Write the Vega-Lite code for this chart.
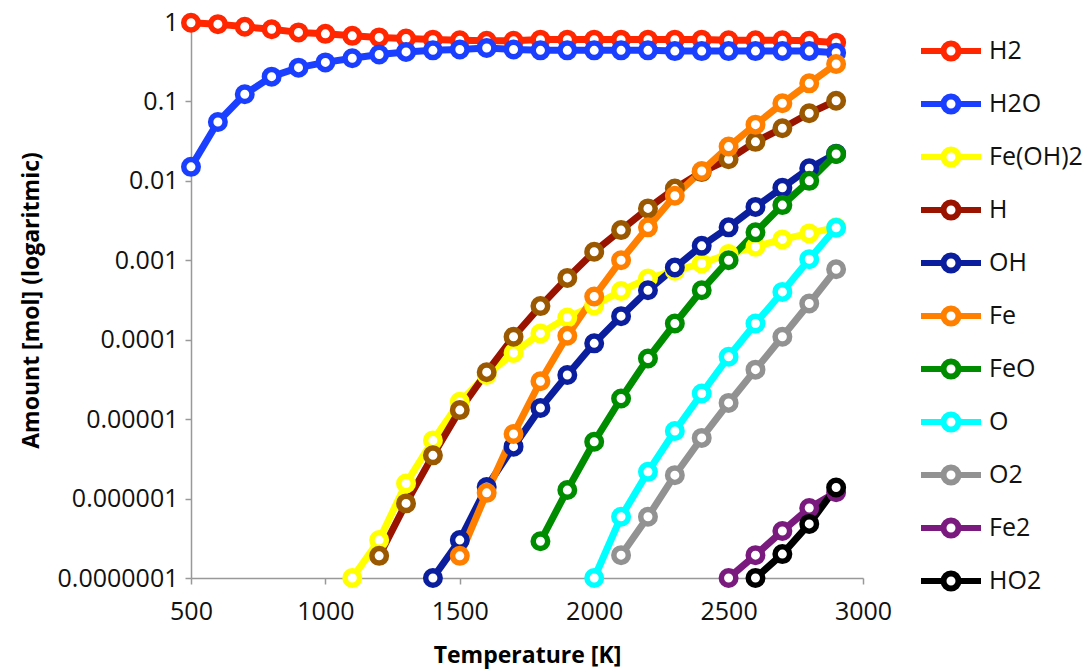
{
  "$schema": "https://vega.github.io/schema/vega-lite/v6.json",
  "width": 672,
  "height": 556,
  "autosize": {"type": "none"},
  "padding": {"left": 191, "top": 22, "right": 229, "bottom": 93},
  "background": "white",
  "config": {
    "view": {"stroke": null},
    "font": "Open Sans",
    "axis": {"labelFont": "Open Sans", "titleFont": "Open Sans", "labelColor": "#111", "titleColor": "#000", "domainColor": "#999", "tickColor": "#999", "domainWidth": 1.5, "tickWidth": 1.5, "grid": false},
    "legend": {"labelFont": "Open Sans"}
  },
  "data": {"values": [
    {"s":"H2","T":500,"v":0.98},{"s":"H2","T":600,"v":0.94},{"s":"H2","T":700,"v":0.87},{"s":"H2","T":800,"v":0.81},{"s":"H2","T":900,"v":0.74},{"s":"H2","T":1000,"v":0.71},{"s":"H2","T":1100,"v":0.67},{"s":"H2","T":1200,"v":0.64},{"s":"H2","T":1300,"v":0.62},{"s":"H2","T":1400,"v":0.6},{"s":"H2","T":1500,"v":0.59},{"s":"H2","T":1600,"v":0.58},{"s":"H2","T":1700,"v":0.58},{"s":"H2","T":1800,"v":0.6},{"s":"H2","T":1900,"v":0.6},{"s":"H2","T":2000,"v":0.6},{"s":"H2","T":2100,"v":0.6},{"s":"H2","T":2200,"v":0.6},{"s":"H2","T":2300,"v":0.6},{"s":"H2","T":2400,"v":0.6},{"s":"H2","T":2500,"v":0.59},{"s":"H2","T":2600,"v":0.59},{"s":"H2","T":2700,"v":0.59},{"s":"H2","T":2800,"v":0.58},{"s":"H2","T":2900,"v":0.55},
    {"s":"H2O","T":500,"v":0.015},{"s":"H2O","T":600,"v":0.055},{"s":"H2O","T":700,"v":0.123},{"s":"H2O","T":800,"v":0.205},{"s":"H2O","T":900,"v":0.266},{"s":"H2O","T":1000,"v":0.31},{"s":"H2O","T":1100,"v":0.35},{"s":"H2O","T":1200,"v":0.39},{"s":"H2O","T":1300,"v":0.42},{"s":"H2O","T":1400,"v":0.44},{"s":"H2O","T":1500,"v":0.45},{"s":"H2O","T":1600,"v":0.47},{"s":"H2O","T":1700,"v":0.45},{"s":"H2O","T":1800,"v":0.44},{"s":"H2O","T":1900,"v":0.44},{"s":"H2O","T":2000,"v":0.44},{"s":"H2O","T":2100,"v":0.44},{"s":"H2O","T":2200,"v":0.44},{"s":"H2O","T":2300,"v":0.43},{"s":"H2O","T":2400,"v":0.43},{"s":"H2O","T":2500,"v":0.43},{"s":"H2O","T":2600,"v":0.43},{"s":"H2O","T":2700,"v":0.43},{"s":"H2O","T":2800,"v":0.43},{"s":"H2O","T":2900,"v":0.41},
    {"s":"Fe(OH)2","T":1100,"v":1e-7},{"s":"Fe(OH)2","T":1200,"v":3.0e-7},{"s":"Fe(OH)2","T":1300,"v":1.55e-6},{"s":"Fe(OH)2","T":1400,"v":5.4e-6},{"s":"Fe(OH)2","T":1500,"v":1.65e-5},{"s":"Fe(OH)2","T":1600,"v":3.6e-5},{"s":"Fe(OH)2","T":1700,"v":6.8e-5},{"s":"Fe(OH)2","T":1800,"v":1.2e-4},{"s":"Fe(OH)2","T":1900,"v":1.9e-4},{"s":"Fe(OH)2","T":2000,"v":2.7e-4},{"s":"Fe(OH)2","T":2100,"v":4.1e-4},{"s":"Fe(OH)2","T":2200,"v":5.9e-4},{"s":"Fe(OH)2","T":2300,"v":7.4e-4},{"s":"Fe(OH)2","T":2400,"v":9.1e-4},{"s":"Fe(OH)2","T":2500,"v":1.2e-3},{"s":"Fe(OH)2","T":2600,"v":1.48e-3},{"s":"Fe(OH)2","T":2700,"v":1.83e-3},{"s":"Fe(OH)2","T":2800,"v":2.18e-3},{"s":"Fe(OH)2","T":2900,"v":2.6e-3},
    {"s":"H","T":1200,"v":1.9e-7},{"s":"H","T":1300,"v":8.7e-7},{"s":"H","T":1400,"v":3.5e-6},{"s":"H","T":1500,"v":1.3e-5},{"s":"H","T":1600,"v":3.9e-5},{"s":"H","T":1700,"v":1.09e-4},{"s":"H","T":1800,"v":2.65e-4},{"s":"H","T":1900,"v":6.0e-4},{"s":"H","T":2000,"v":1.28e-3},{"s":"H","T":2100,"v":2.4e-3},{"s":"H","T":2200,"v":4.5e-3},{"s":"H","T":2300,"v":8.0e-3},{"s":"H","T":2400,"v":1.29e-2},{"s":"H","T":2500,"v":1.87e-2},{"s":"H","T":2600,"v":3.1e-2},{"s":"H","T":2700,"v":4.6e-2},{"s":"H","T":2800,"v":7.1e-2},{"s":"H","T":2900,"v":0.102},
    {"s":"OH","T":1400,"v":1e-7},{"s":"OH","T":1500,"v":3.0e-7},{"s":"OH","T":1600,"v":1.4e-6},{"s":"OH","T":1700,"v":4.5e-6},{"s":"OH","T":1800,"v":1.38e-5},{"s":"OH","T":1900,"v":3.6e-5},{"s":"OH","T":2000,"v":9.0e-5},{"s":"OH","T":2100,"v":1.98e-4},{"s":"OH","T":2200,"v":4.2e-4},{"s":"OH","T":2300,"v":8.1e-4},{"s":"OH","T":2400,"v":1.52e-3},{"s":"OH","T":2500,"v":2.6e-3},{"s":"OH","T":2600,"v":4.7e-3},{"s":"OH","T":2700,"v":8.2e-3},{"s":"OH","T":2800,"v":1.44e-2},{"s":"OH","T":2900,"v":2.2e-2},
    {"s":"Fe","T":1500,"v":1.9e-7},{"s":"Fe","T":1600,"v":1.18e-6},{"s":"Fe","T":1700,"v":6.5e-6},{"s":"Fe","T":1800,"v":3.0e-5},{"s":"Fe","T":1900,"v":1.12e-4},{"s":"Fe","T":2000,"v":3.5e-4},{"s":"Fe","T":2100,"v":1.0e-3},{"s":"Fe","T":2200,"v":2.6e-3},{"s":"Fe","T":2300,"v":6.5e-3},{"s":"Fe","T":2400,"v":1.33e-2},{"s":"Fe","T":2500,"v":2.7e-2},{"s":"Fe","T":2600,"v":5.1e-2},{"s":"Fe","T":2700,"v":9.5e-2},{"s":"Fe","T":2800,"v":0.169},{"s":"Fe","T":2900,"v":0.296},
    {"s":"FeO","T":1800,"v":2.9e-7},{"s":"FeO","T":1900,"v":1.28e-6},{"s":"FeO","T":2000,"v":5.2e-6},{"s":"FeO","T":2100,"v":1.82e-5},{"s":"FeO","T":2200,"v":5.8e-5},{"s":"FeO","T":2300,"v":1.6e-4},{"s":"FeO","T":2400,"v":4.2e-4},{"s":"FeO","T":2500,"v":1.0e-3},{"s":"FeO","T":2600,"v":2.25e-3},{"s":"FeO","T":2700,"v":4.95e-3},{"s":"FeO","T":2800,"v":1.0e-2},{"s":"FeO","T":2900,"v":2.18e-2},
    {"s":"O","T":2000,"v":1e-7},{"s":"O","T":2100,"v":5.9e-7},{"s":"O","T":2200,"v":2.17e-6},{"s":"O","T":2300,"v":7.1e-6},{"s":"O","T":2400,"v":2.1e-5},{"s":"O","T":2500,"v":6.1e-5},{"s":"O","T":2600,"v":1.6e-4},{"s":"O","T":2700,"v":4.0e-4},{"s":"O","T":2800,"v":1.03e-3},{"s":"O","T":2900,"v":2.57e-3},
    {"s":"O2","T":2100,"v":1.94e-7},{"s":"O2","T":2200,"v":5.9e-7},{"s":"O2","T":2300,"v":1.97e-6},{"s":"O2","T":2400,"v":5.8e-6},{"s":"O2","T":2500,"v":1.6e-5},{"s":"O2","T":2600,"v":4.2e-5},{"s":"O2","T":2700,"v":1.09e-4},{"s":"O2","T":2800,"v":2.86e-4},{"s":"O2","T":2900,"v":7.7e-4},
    {"s":"Fe2","T":2500,"v":1e-7},{"s":"Fe2","T":2600,"v":1.94e-7},{"s":"Fe2","T":2700,"v":3.9e-7},{"s":"Fe2","T":2800,"v":7.6e-7},{"s":"Fe2","T":2900,"v":1.2e-6},
    {"s":"HO2","T":2600,"v":1e-7},{"s":"HO2","T":2700,"v":2e-7},{"s":"HO2","T":2800,"v":4.8e-7},{"s":"HO2","T":2900,"v":1.38e-6}
  ]},
  "encoding": {
    "x": {"field": "T", "type": "quantitative", "scale": {"domain": [500, 3000], "nice": false},
      "axis": {"values": [500, 1000, 1500, 2000, 2500, 3000], "format": "d", "title": "Temperature [K]", "labelFontSize": 25, "titleFontSize": 23, "titleFontWeight": "bold", "tickSize": 6, "labelPadding": 15, "titlePadding": 20, "labelFlush": false}},
    "y": {"field": "v", "type": "quantitative", "scale": {"type": "log", "domain": [1e-7, 1], "nice": false},
      "axis": {"values": [1e-7, 1e-6, 1e-5, 1e-4, 1e-3, 1e-2, 1e-1, 1], "format": ".7~f", "title": "Amount [mol] (logaritmic)", "labelFontSize": 25, "titleFontSize": 23, "titleFontWeight": "bold", "tickSize": 6, "labelPadding": 7, "titlePadding": 14}}
  },
  "layer": [
    {
      "mark": {"type": "line", "strokeWidth": 7, "strokeJoin": "round", "strokeCap": "round"},
      "encoding": {
        "color": {"field": "s", "type": "nominal", "title": null,
          "scale": {"domain": ["H2","H2O","Fe(OH)2","H","OH","Fe","FeO","O","O2","Fe2","HO2"],
            "range": ["#FF2600","#1B3FFF","#FFFF00","#9A1200","#0A1E9E","#FF7F00","#008C00","#00FFFF","#929292","#7B1A7E","#000000"]},
          "legend": {"orient": "none", "legendX": 727, "legendY": -4, "symbolType": "M-1,0H-0.25M0.25,0H1M-0.25,0A0.25,0.25 0 1,1 0.25,0A0.25,0.25 0 1,1 -0.25,0", "symbolSize": 3600, "symbolStrokeWidth": 6, "symbolFillColor": "white", "symbolOpacity": 1, "labelFontSize": 25, "labelColor": "#111", "labelOffset": 5, "rowPadding": 0, "padding": 0, "symbolLimit": 20}
        }
      }
    },
    {
      "mark": {"type": "point", "shape": "circle", "filled": false, "fill": "white", "fillOpacity": 1, "opacity": 1, "size": 210, "strokeWidth": 5.5},
      "encoding": {
        "stroke": {"field": "s", "type": "nominal", "legend": null,
          "scale": {"domain": ["H2","H2O","Fe(OH)2","H","OH","Fe","FeO","O","O2","Fe2","HO2"],
            "range": ["#FF2600","#1B3FFF","#FFFF00","#9A5800","#0A1E9E","#FF7F00","#008C00","#00FFFF","#929292","#7B1A7E","#000000"]}
        }
      }
    }
  ]
}
